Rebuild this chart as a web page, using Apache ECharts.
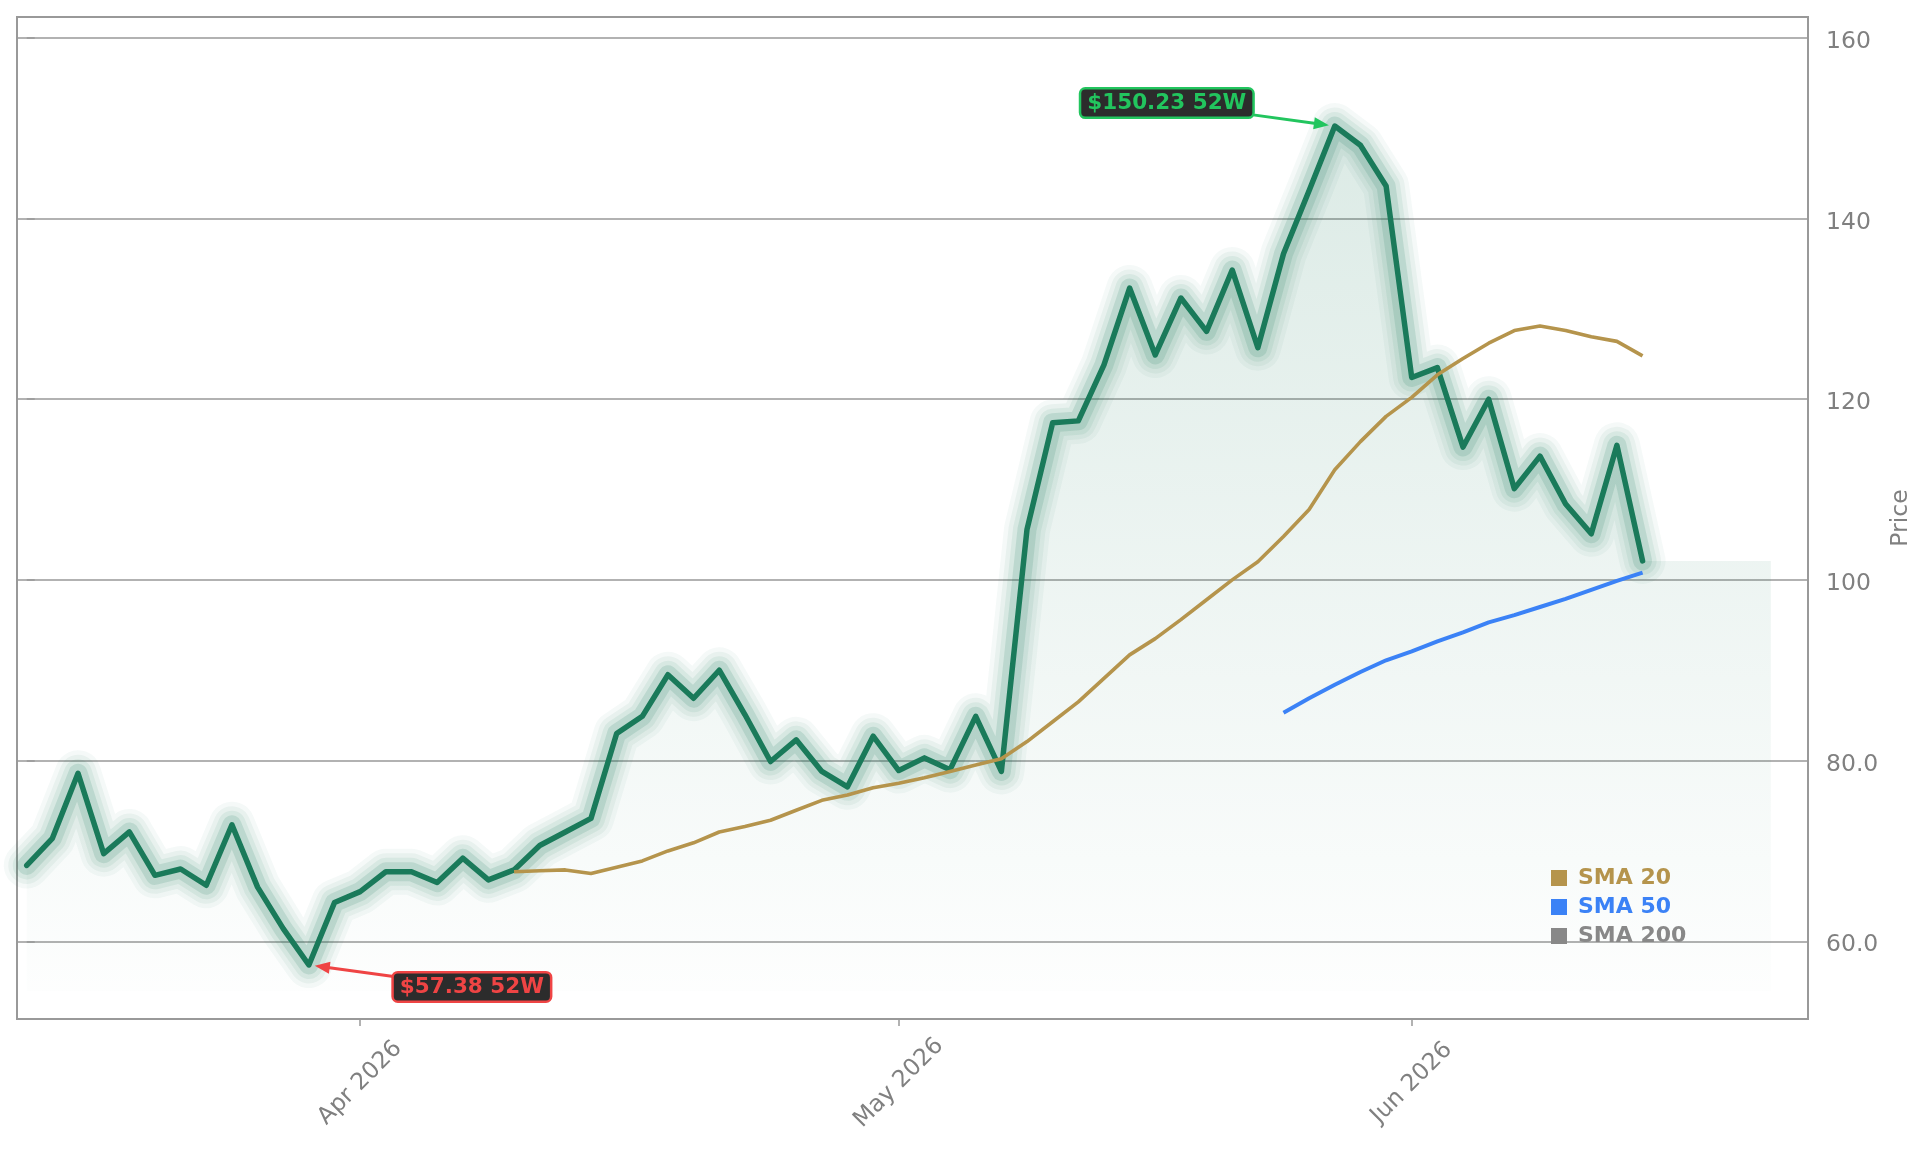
<!DOCTYPE html>
<html>
<head>
<meta charset="utf-8">
<title>Price</title>
<script src="https://cdn.jsdelivr.net/npm/echarts@6/dist/echarts.min.js"></script>
<style>
  html, body { margin: 0; padding: 0; background: #fff; }
  #chart { width: 1929px; height: 1153px; }
</style>
</head>
<body>
<div id="chart"></div>
<script>
// trading days shown on the x axis
const dates = [
  '2026-03-13','2026-03-16','2026-03-17','2026-03-18','2026-03-19','2026-03-20',
  '2026-03-23','2026-03-24','2026-03-25','2026-03-26','2026-03-27','2026-03-30','2026-03-31',
  '2026-04-01','2026-04-02','2026-04-06','2026-04-07','2026-04-08','2026-04-09','2026-04-10',
  '2026-04-13','2026-04-14','2026-04-15','2026-04-16','2026-04-17',
  '2026-04-20','2026-04-21','2026-04-22','2026-04-23','2026-04-24',
  '2026-04-27','2026-04-28','2026-04-29','2026-04-30',
  '2026-05-01','2026-05-04','2026-05-05','2026-05-06','2026-05-07','2026-05-08',
  '2026-05-11','2026-05-12','2026-05-13','2026-05-14','2026-05-15',
  '2026-05-18','2026-05-19','2026-05-20','2026-05-21','2026-05-22',
  '2026-05-26','2026-05-27','2026-05-28','2026-05-29',
  '2026-06-01','2026-06-02','2026-06-03','2026-06-04','2026-06-05',
  '2026-06-08','2026-06-09','2026-06-10','2026-06-11','2026-06-12'
];

const price = [
  68.4, 71.4, 78.6, 69.7, 72.1, 67.3, 68.0, 66.2, 72.9, 66.0,
  61.4, 57.38, 64.3, 65.5, 67.7, 67.7, 66.5, 69.2, 66.8, 67.9,
  70.6, 72.1, 73.6, 83.0, 84.9, 89.5, 86.9, 90.0, 85.1, 79.9,
  82.3, 78.8, 77.1, 82.7, 78.9, 80.3, 79.0, 84.9, 78.8, 105.6,
  117.4, 117.6, 123.8, 132.3, 124.9, 131.2, 127.5, 134.3, 125.7, 136.1,
  143.1, 150.23, 148.1, 143.6, 122.4, 123.5, 114.7, 120.0, 110.1, 113.7,
  108.4, 105.1, 114.9, 102.1
];

const sma20Start = 19;
const sma20 = [
  67.7, 67.8, 67.9, 67.5, 68.2, 68.9, 70.0, 70.9, 72.1, 72.7,
  73.4, 74.5, 75.6, 76.2, 77.0, 77.5, 78.1, 78.8, 79.5, 80.2,
  82.1, 84.3, 86.5, 89.1, 91.7, 93.5, 95.6, 97.8, 100.0, 102.0,
  104.8, 107.8, 112.2, 115.3, 118.1, 120.2, 122.7, 124.5, 126.2, 127.6,
  128.1, 127.6, 126.9, 126.4, 124.8
];

const sma50Start = 49;
const sma50 = [
  85.3, 86.9, 88.4, 89.8, 91.1, 92.1, 93.2, 94.2, 95.3, 96.1,
  97.0, 97.9, 98.9, 99.9, 100.8
];

const sma200 = [];

const yTicks = [60, 80, 100, 120, 140, 160];
const high52 = { index: 51, value: 150.23, label: '$150.23 52W' };
const low52 = { index: 11, value: 57.38, label: '$57.38 52W' };

const projectionDays = 5;   // shaded area keeps going past the last close
const fillBase = 54.5;

const monthNames = ['Jan','Feb','Mar','Apr','May','Jun','Jul','Aug','Sep','Oct','Nov','Dec'];
const monthStarts = dates.map((d, i) => i)
  .filter(i => i > 0 && dates[i].slice(5, 7) !== dates[i - 1].slice(5, 7));

const priceData = price.map((v, i) => [i, v]);
const fillData = priceData.slice();
for (let k = 1; k <= projectionDays; k++) {
  fillData.push([price.length - 1 + k, price[price.length - 1]]);
}
const sma20Data = sma20.map((v, i) => [sma20Start + i, v]);
const sma50Data = sma50.map((v, i) => [sma50Start + i, v]);

const lineGreen = '#1a7a5a';
const glow = [
  { width: 46, opacity: 0.045 },
  { width: 37, opacity: 0.06 },
  { width: 28, opacity: 0.08 },
  { width: 19, opacity: 0.14 }
];

const font = '"DejaVu Sans", "Noto Sans", sans-serif';
const gray = '#808080';

const chart = echarts.init(document.getElementById('chart'));

const series = [
  {
    type: 'line',
    data: fillData,
    symbol: 'none',
    silent: true,
    z: 1,
    lineStyle: { width: 0 },
    areaStyle: {
      origin: fillBase,
      color: new echarts.graphic.LinearGradient(0, 0, 0, 1, [
        { offset: 0, color: 'rgba(26,122,90,0.22)' },
        { offset: 1, color: 'rgba(26,122,90,0.01)' }
      ])
    }
  }
];

glow.forEach(g => {
  series.push({
    type: 'line',
    data: priceData,
    symbol: 'none',
    silent: true,
    z: 2,
    lineStyle: { color: lineGreen, width: g.width, opacity: g.opacity, cap: 'round', join: 'round' }
  });
});

series.push({
  type: 'line',
  data: priceData,
  symbol: 'none',
  silent: true,
  z: 3,
  lineStyle: { color: lineGreen, width: 5.5, cap: 'round', join: 'round' }
});

series.push(
  {
    name: 'SMA 20',
    type: 'line',
    data: sma20Data,
    symbol: 'none',
    silent: true,
    z: 4,
    color: '#b5944c',
    lineStyle: { color: '#b5944c', width: 3.6 }
  },
  {
    name: 'SMA 50',
    type: 'line',
    data: sma50Data,
    symbol: 'none',
    silent: true,
    z: 4,
    color: '#3b82f6',
    lineStyle: { color: '#3b82f6', width: 4 }
  },
  {
    name: 'SMA 200',
    type: 'line',
    data: sma200,
    symbol: 'none',
    silent: true,
    z: 4,
    color: '#888888',
    lineStyle: { color: '#888888', width: 3 }
  }
);

const option = {
  animation: false,
  backgroundColor: '#ffffff',
  textStyle: { fontFamily: font },
  grid: {
    left: 17, right: 121, top: 17, bottom: 134,
    show: true,
    borderColor: '#999999',
    borderWidth: 2
  },
  legend: {
    orient: 'vertical',
    left: 1551,
    top: 867,
    padding: 0,
    icon: 'rect',
    itemWidth: 16,
    itemHeight: 16,
    itemGap: 7,
    selectedMode: false,
    textStyle: { fontFamily: font, fontSize: 22, fontWeight: 'bold', padding: [0, 0, 0, 6] },
    data: [
      { name: 'SMA 20', textStyle: { color: '#b5944c' } },
      { name: 'SMA 50', textStyle: { color: '#3b82f6' } },
      { name: 'SMA 200', textStyle: { color: '#888888' } }
    ]
  },
  xAxis: {
    type: 'value',
    min: -0.38,
    max: 69.45,
    axisLine: { show: false },
    splitLine: { show: false },
    axisTick: {
      show: true,
      customValues: monthStarts,
      length: 7,
      lineStyle: { color: '#999999', width: 1.5 }
    },
    axisLabel: {
      customValues: monthStarts,
      rotate: 45,
      align: 'center',
      verticalAlign: 'middle',
      margin: 64,
      color: gray,
      fontSize: 23.5,
      fontFamily: font,
      formatter: v => {
        const d = dates[Math.round(v)];
        return monthNames[+d.slice(5, 7) - 1] + ' ' + d.slice(0, 4);
      }
    }
  },
  yAxis: {
    type: 'value',
    position: 'right',
    min: 51.4,
    max: 162.3,
    name: 'Price',
    nameLocation: 'middle',
    nameRotate: 90,
    nameGap: 80,
    nameTextStyle: { color: gray, fontSize: 23.5, fontFamily: font },
    axisLine: { show: false },
    axisTick: {
      show: true,
      customValues: yTicks,
      length: 8,
      lineStyle: { color: '#999999', width: 1.5 }
    },
    splitLine: { show: true, lineStyle: { color: '#999999', width: 1.6 } },
    axisLabel: {
      customValues: yTicks,
      margin: 18,
      color: gray,
      fontSize: 23.5,
      fontFamily: font,
      verticalAlign: 'top',
      lineHeight: 8,
      formatter: v => (v >= 100 ? String(v) : v.toFixed(1))
    }
  },
  series: series
};

chart.setOption(option);

// 52-week high / low callouts, placed by offset from the data point
function callout(pt, color, dx, dy, halfW, halfH) {
  const p = chart.convertToPixel({ gridIndex: 0 }, [pt.index, pt.value]);
  const cx = p[0] + dx, cy = p[1] + dy;
  const vx = p[0] - cx, vy = p[1] - cy;
  const t = Math.min(halfW / Math.abs(vx), halfH / Math.abs(vy));
  const sx = cx + vx * t, sy = cy + vy * t;
  const len = Math.hypot(p[0] - sx, p[1] - sy);
  const ux = (p[0] - sx) / len, uy = (p[1] - sy) / len;
  const tipX = p[0] - ux * 6, tipY = p[1] - uy * 6;
  const headLen = 15, headW = 6;
  const bx = tipX - ux * headLen, by = tipY - uy * headLen;
  return [
    {
      type: 'line',
      z: 100,
      silent: true,
      shape: { x1: sx, y1: sy, x2: bx + ux * 2, y2: by + uy * 2 },
      style: { stroke: color, lineWidth: 3 }
    },
    {
      type: 'polygon',
      z: 100,
      silent: true,
      shape: { points: [[tipX, tipY], [bx - uy * headW, by + ux * headW], [bx + uy * headW, by - ux * headW]] },
      style: { fill: color }
    },
    {
      type: 'text',
      z: 101,
      silent: true,
      x: cx,
      y: cy,
      style: {
        text: pt.label,
        fill: color,
        fontSize: 21.5,
        fontWeight: 'bold',
        fontFamily: font,
        align: 'center',
        verticalAlign: 'middle',
        backgroundColor: '#2c2c2c',
        borderColor: color,
        borderWidth: 2.5,
        borderRadius: 4,
        padding: [3, 6, 2, 6]
      }
    }
  ];
}

chart.setOption({
  graphic: [].concat(
    callout(high52, '#22c55e', -168, -23, 84.5, 15),
    callout(low52, '#ef4444', 163, 22, 76.5, 14)
  )
});
</script>
</body>
</html>
